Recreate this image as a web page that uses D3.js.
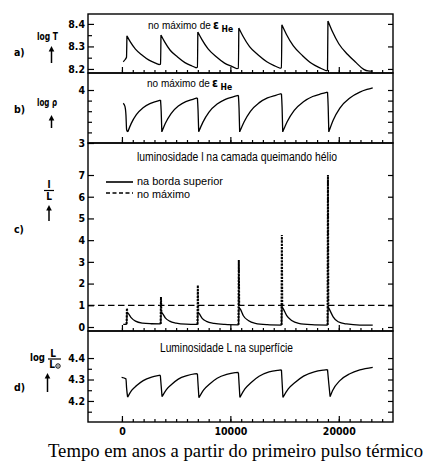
<!DOCTYPE html>
<html><head><meta charset="utf-8">
<script src="https://cdn.jsdelivr.net/npm/d3@7"></script>
<style>
html,body{margin:0;padding:0;background:#fff;}
svg{display:block;}
</style></head><body>
<svg id="chart" width="429" height="466"></svg>
<script>
// ---------------- data (years after first thermal pulse) ----------------
const pulseYears = [460, 3600, 7000, 10780, 14750, 19000];

const logT = [
 [120,8.232],[300,8.242],[420,8.252],[460,8.347],
 [774,8.320],[1245,8.288],[1870,8.261],[2500,8.239],[3100,8.226],[3450,8.219],[3560,8.222],[3600,8.351],
 [3940,8.320],[4450,8.283],[5130,8.253],[5810,8.228],[6460,8.213],[6860,8.205],[6960,8.208],[7000,8.364],
 [7380,8.330],[7945,8.289],[8700,8.254],[9460,8.226],[10175,8.210],[10600,8.201],[10740,8.203],[10780,8.382],
 [11180,8.344],[11770,8.299],[12570,8.262],[13360,8.232],[14115,8.213],[14590,8.203],[14710,8.205],[14750,8.396],
 [15175,8.353],[15810,8.302],[16660,8.259],[17510,8.224],[18320,8.203],[18830,8.192],[18960,8.194],[19000,8.413],
 [19400,8.367],[20000,8.312],[20800,8.265],[21600,8.228],[22300,8.198],[22700,8.191],[23130,8.190]
];

const logRho = [
 [120,3.75],[277,3.69],[370,3.53],[433,3.25],[540,3.21],
 [850,3.366],[1330,3.534],[1950,3.666],[2580,3.744],[3180,3.786],[3560,3.81],[3620,3.60],[3680,3.21],
 [4020,3.376],[4530,3.556],[5200,3.696],[5890,3.78],[6540,3.824],[6960,3.85],[7020,3.62],[7080,3.21],
 [7460,3.389],[8030,3.583],[8780,3.734],[9540,3.824],[10250,3.872],[10740,3.90],[10800,3.66],[10860,3.21],
 [11260,3.397],[11850,3.599],[12640,3.757],[13420,3.851],[14180,3.901],[14710,3.93],[14770,3.68],[14830,3.21],
 [15250,3.405],[15890,3.615],[16740,3.78],[17590,3.878],[18400,3.93],[18960,3.96],[19020,3.70],[19080,3.21],
 [19480,3.43],[20100,3.66],[21020,3.85],[21940,3.96],[22600,4.01],[23130,4.04]
];

// luminosity l in the helium-burning shell, upper border (solid)
const lumUpper = [
 [120,0.12],[440,0.13],[470,0.70],[600,0.62],[870,0.42],[1250,0.27],[1900,0.18],[2700,0.15],[3580,0.14],
 [3610,0.70],[3750,0.62],[4000,0.42],[4400,0.27],[5000,0.18],[5900,0.13],[6980,0.12],
 [7010,0.70],[7150,0.60],[7400,0.40],[7800,0.26],[8500,0.17],[9500,0.12],[10760,0.10],
 [10790,0.92],[10950,0.80],[11200,0.52],[11650,0.30],[12300,0.17],[13400,0.11],[14730,0.09],
 [14760,0.95],[14920,0.80],[15200,0.52],[15650,0.30],[16300,0.17],[17500,0.11],[18980,0.09],
 [19010,0.94],[19150,0.80],[19480,0.47],[19940,0.24],[20720,0.14],[21940,0.09],[23130,0.09]
];
// luminosity at the maximum (dashed): spike peaks at each pulse
const lumMaxPeaks = [0.87, 1.38, 1.93, 3.09, 4.24, 7.0];
const lumMaxBase  = [0.13, 0.14, 0.12, 0.10, 0.09, 0.09];
const lumMaxAfter = [0.70, 0.70, 0.70, 0.92, 0.95, 0.94];
const lumMaxLevel = 1;

const logLsurf = [
 [-30,4.310],[370,4.303],[430,4.260],[525,4.218],
 [894,4.249],[1355,4.272],[1963,4.295],[2737,4.311],[3438,4.319],[3540,4.320],[3620,4.270],[3700,4.220],
 [4100,4.253],[4600,4.278],[5200,4.302],[6000,4.318],[6700,4.326],[6960,4.327],[7030,4.270],[7100,4.215],
 [7540,4.252],[8090,4.279],[8780,4.306],[9660,4.324],[10440,4.332],[10740,4.333],[10810,4.275],[10880,4.216],
 [11340,4.256],[11920,4.286],[12650,4.315],[13570,4.335],[14390,4.343],[14710,4.345],[14780,4.280],[14850,4.216],
 [15340,4.256],[15960,4.286],[16750,4.316],[17740,4.336],[18620,4.344],[18960,4.346],[19080,4.280],[19200,4.220],
 [19430,4.249],[20100,4.295],[21020,4.327],[21940,4.345],[23130,4.357]
];

const xTickLabels = [0, 10000, 20000];
const xMinorTicks = [0,1000,2000,3000,4000,5000,6000,7000,8000,9000,10000,11000,12000,
  13000,14000,15000,16000,17000,18000,19000,20000,21000,22000,23000,24000];

const ticksA = [8.2, 8.3, 8.4],  minorA = [8.25, 8.35];
const ticksB = [3, 4],           minorB = [3.2, 3.4, 3.6, 3.8];
const ticksC = [0,1,2,3,4,5,6,7];
const ticksD = [4.2, 4.3, 4.4],  minorD = [4.15, 4.25, 4.35];

// ---------------- drawing ----------------
const svg = d3.select("#chart");
const L = 88, R = 393;
const x = d3.scaleLinear().domain([-3130, 25000]).range([L, R]);

const panels = [
  {key:"a", top:14,  bot:73,  y: d3.scaleLinear().domain([8.182, 8.444]).range([73,14]),
   major: ticksA, minor: minorA, right: ticksA, fmt: d3.format(".1f")},
  {key:"b", top:73,  bot:143, y: d3.scaleLinear().domain([3, 4.321]).range([143,73]),
   major: ticksB, minor: minorB, right: [3.2,3.4,3.6,3.8,4.0], fmt: d3.format("d")},
  {key:"c", top:143, bot:331, y: d3.scaleLinear().domain([-0.184, 8.474]).range([331,143]),
   major: ticksC, minor: [], right: ticksC, fmt: d3.format("d")},
  {key:"d", top:331, bot:422, y: d3.scaleLinear().domain([4.102, 4.526]).range([422,331]),
   major: ticksD, minor: minorD, right: [4.15,4.2,4.25,4.3,4.35,4.4], fmt: d3.format(".1f")}
];
const P = {}; panels.forEach(p => P[p.key] = p);

const tickFont = "'DejaVu Sans Condensed','DejaVu Sans',sans-serif";
const textFont = "'Liberation Sans','Arial',sans-serif";

function styleAxis(g){
  g.select(".domain").remove();
  g.selectAll(".tick line").attr("stroke","#000").attr("stroke-width",1.2);
  g.selectAll("text").attr("fill","#000").attr("font-family",tickFont)
    .attr("font-size",10.5).attr("font-weight","bold");
}

panels.forEach(p => {
  svg.append("rect").attr("x",L).attr("y",p.top).attr("width",R-L).attr("height",p.bot-p.top)
    .attr("fill","none").attr("stroke","#000").attr("stroke-width",1.4);
  svg.append("g").attr("transform",`translate(${L},0)`)
    .call(d3.axisLeft(p.y).tickValues(p.major).tickSize(-6).tickPadding(3).tickFormat(p.fmt)).call(styleAxis);
  if (p.minor.length)
    svg.append("g").attr("transform",`translate(${L},0)`)
      .call(d3.axisLeft(p.y).tickValues(p.minor).tickSize(-4).tickFormat("")).call(styleAxis);
  svg.append("g").attr("transform",`translate(${R},0)`)
    .call(d3.axisRight(p.y).tickValues(p.right).tickSize(-5).tickFormat("")).call(styleAxis);
  svg.append("g").attr("transform",`translate(0,${p.bot})`)
    .call(d3.axisBottom(x).tickValues(xMinorTicks).tickSize(-3).tickFormat("")).call(styleAxis);
  svg.append("g").attr("transform",`translate(0,${p.bot})`)
    .call(d3.axisBottom(x).tickValues(xTickLabels).tickSize(-6).tickPadding(6)
      .tickFormat(p.key==="d" ? d3.format("d") : "")).call(styleAxis);
});

// split a series into monotone runs so cusps stay sharp
function runs(data){
  const segs=[]; let cur=[data[0]]; let dir=0;
  for(let i=1;i<data.length;i++){
    const d=Math.sign(data[i][1]-data[i-1][1]);
    if(dir!==0 && d!==0 && d!==dir){ segs.push(cur); cur=[data[i-1]]; }
    if(d!==0) dir=d;
    cur.push(data[i]);
  }
  segs.push(cur); return segs;
}
function drawCurve(data, p){
  const gen = d3.line().x(d=>x(d[0])).y(d=>p.y(d[1])).curve(d3.curveMonotoneX);
  const dstr = runs(data).map(s=>gen(s)).join("");
  svg.append("path").attr("d",dstr).attr("fill","none").attr("stroke","#000")
    .attr("stroke-width",1.3).attr("stroke-linejoin","round");
}

drawCurve(logT, P.a);
drawCurve(logRho, P.b);
drawCurve(lumUpper, P.c);
drawCurve(logLsurf, P.d);

// dashed "no máximo": reference level and spikes
svg.append("line").attr("x1",L).attr("x2",R).attr("y1",P.c.y(lumMaxLevel)).attr("y2",P.c.y(lumMaxLevel))
  .attr("stroke","#000").attr("stroke-width",1.3).attr("stroke-dasharray","6.5,3.5");
const spikeLine = d3.line().x(d=>x(d[0])).y(d=>P.c.y(d[1]));
pulseYears.forEach((t,i)=>{
  svg.append("path").attr("d", spikeLine([[t-35,lumMaxBase[i]],[t,lumMaxPeaks[i]],[t+35,lumMaxAfter[i]]]))
    .attr("fill","none").attr("stroke","#000").attr("stroke-width",2).attr("stroke-dasharray","2.2,1.1");
});

// ---------------- texts ----------------
function txt(s, xx, yy, opts={}){
  const t = svg.append("text").attr("x",xx).attr("y",yy).text(s)
    .attr("font-family", opts.family || textFont).attr("font-size", opts.size || 11)
    .attr("fill","#000");
  if (opts.weight) t.attr("font-weight",opts.weight);
  if (opts.len) t.attr("textLength",opts.len).attr("lengthAdjust","spacingAndGlyphs");
  if (opts.anchor) t.attr("text-anchor",opts.anchor);
  return t;
}
function maxEps(xx, yy){
  txt("no máximo de", xx, yy, {size:10});
  txt("ε", xx+65, yy, {size:12, weight:"bold", family:tickFont});
  txt("He", xx+73.5, yy+3, {size:8.5, weight:"bold", family:tickFont});
}
maxEps(148, 29);
maxEps(147, 87);

txt("luminosidade l na camada queimando hélio", 137, 161, {size:12, len:200});
svg.append("line").attr("x1",106).attr("x2",133).attr("y1",182).attr("y2",182)
  .attr("stroke","#000").attr("stroke-width",1.6);
txt("na borda superior", 137, 185, {size:11.5, len:86});
svg.append("line").attr("x1",106).attr("x2",133).attr("y1",193).attr("y2",193)
  .attr("stroke","#000").attr("stroke-width",1.3).attr("stroke-dasharray","4,2.5");
txt("no máximo", 137, 197.5, {size:11.5, len:53});

txt("Luminosidade L na superfície", 160, 352, {size:12, len:133});

// panel letters and y-labels
const lf = {family:tickFont, weight:"bold", size:10.5};
txt("a)", 14, 56, lf); txt("b)", 14, 113, lf); txt("c)", 14, 233, lf); txt("d)", 14, 391, lf);
txt("log T", 37, 40, {family:tickFont, weight:"bold", size:10, len:21});
txt("log ρ", 37, 106, {family:tickFont, weight:"bold", size:10, len:20});
txt("l", 49, 188, {family:tickFont, weight:"bold", size:10, anchor:"middle"});
svg.append("line").attr("x1",44).attr("x2",54).attr("y1",190.5).attr("y2",190.5).attr("stroke","#000").attr("stroke-width",1.2);
txt("L", 49, 200, {family:tickFont, weight:"bold", size:10, anchor:"middle"});
txt("log", 30, 361, {family:tickFont, weight:"bold", size:10, len:15});
txt("L", 53, 357, {family:tickFont, weight:"bold", size:10, anchor:"middle"});
svg.append("line").attr("x1",48).attr("x2",61).attr("y1",359).attr("y2",359).attr("stroke","#000").attr("stroke-width",1.2);
txt("L", 52, 368, {family:tickFont, weight:"bold", size:10, anchor:"middle"});
svg.append("circle").attr("cx",58).attr("cy",366).attr("r",2.2).attr("fill","none").attr("stroke","#000").attr("stroke-width",1);
svg.append("circle").attr("cx",58).attr("cy",366).attr("r",0.7).attr("fill","#000");

function arrow(ax, y1, y2){
  svg.append("line").attr("x1",ax).attr("x2",ax).attr("y1",y1+3).attr("y2",y2).attr("stroke","#000").attr("stroke-width",1.5);
  svg.append("path").attr("d",`M${ax},${y1} L${ax-2.8},${y1+5.5} L${ax+2.8},${y1+5.5} Z`).attr("fill","#000");
}
arrow(51.5, 46, 63); arrow(51.5, 115, 128); arrow(49, 205, 221); arrow(47.5, 373, 392);

txt("Tempo em anos a partir do primeiro pulso térmico", 48, 457,
  {family:"'Liberation Serif','Times New Roman',serif", size:18, len:375});
</script></body></html>
